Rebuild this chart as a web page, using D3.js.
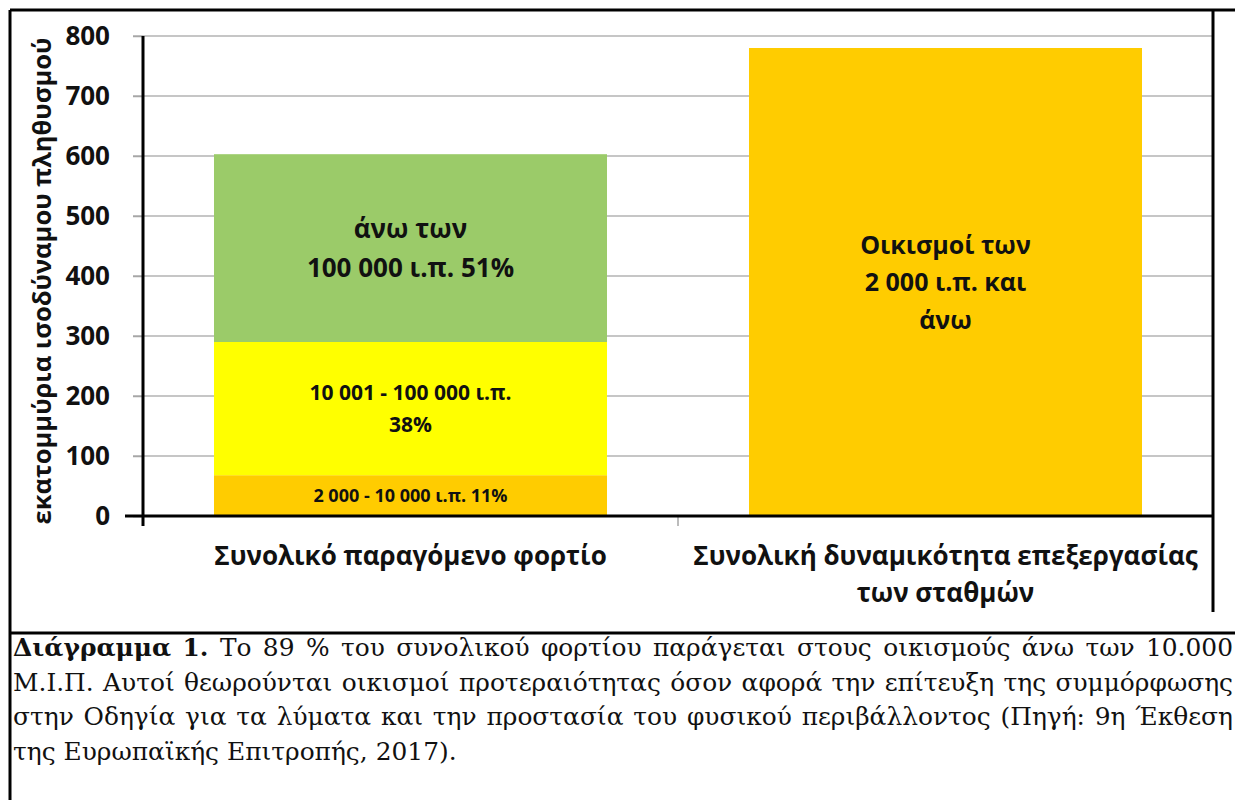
<!DOCTYPE html>
<html>
<head>
<meta charset="utf-8">
<script src="https://cdn.jsdelivr.net/npm/d3@7/dist/d3.min.js"></script>
<style>
  body { margin: 0; background: #fff; }
  svg { display: block; }
</style>
</head>
<body>
<div id="chart"></div>
<script>
// values (millions of population equivalent)
const categories = ["Συνολικό παραγόμενο φορτίο", "Συνολική δυναμικότητα επεξεργασίας των σταθμών"];
const categoryLines = [["Συνολικό παραγόμενο φορτίο"], ["Συνολική δυναμικότητα επεξεργασίας", "των σταθμών"]];
const loadSegments = [68, 222, 313];          // 2 000-10 000, 10 001-100 000, >100 000
const capacitySegments = [780];                // plants >= 2 000 p.e.
const segmentColors = [["#FFCC00", "#FFFF00", "#9BCB69"], ["#FFCC00"]];
const segmentLabels = [
    [["2 000 - 10 000 ι.π. 11%"], ["10 001 - 100 000 ι.π.", "38%"], ["άνω των", "100 000 ι.π. 51%"]],
    [["Οικισμοί των", "2 000 ι.π. και", "άνω"]]
];
const labelSizes = [[18, 21, 26], [25]];
const yTicks = [0, 100, 200, 300, 400, 500, 600, 700, 800];
const yTitle = "εκατομμύρια ισοδύναμου πληθυσμού";

const captionLines = [
    "Διάγραμμα 1. Το 89 % του συνολικού φορτίου παράγεται στους οικισμούς άνω των 10.000",
    "Μ.Ι.Π. Αυτοί θεωρούνται οικισμοί προτεραιότητας όσον αφορά την επίτευξη της συμμόρφωσης",
    "στην Οδηγία για τα λύματα και την προστασία του φυσικού περιβάλλοντος (Πηγή: 9η Έκθεση",
    "της Ευρωπαϊκής Επιτροπής, 2017)."
];
const captionBoldWords = 2;

const W = 1235, H = 800;
const sans = "'Open Sans', 'Noto Sans', sans-serif";
const serif = "'DejaVu Serif', serif";

const svg = d3.select("#chart").append("svg")
    .attr("width", W)
    .attr("height", H);

svg.append("rect").attr("width", W).attr("height", H).attr("fill", "#fff");

// plot area
const plot = { left: 143, right: 1213, top: 36, bottom: 516 };

const y = d3.scaleLinear().domain([0, 800]).range([plot.bottom, plot.top]);
const x = d3.scaleBand()
    .domain(categories)
    .range([plot.left, plot.right])
    .paddingInner(0.2654)
    .paddingOuter(0.1327);

// gridlines
svg.append("g")
    .selectAll("line")
    .data(yTicks.filter(d => d > 0))
    .join("line")
    .attr("x1", plot.left - 10)
    .attr("x2", plot.right)
    .attr("y1", d => y(d))
    .attr("y2", d => y(d))
    .attr("stroke", "#b3b3b3")
    .attr("stroke-width", 1.5);

// stacked bars
const stacks = [loadSegments, capacitySegments];
stacks.forEach((vals, ci) => {
    const cat = categories[ci];
    let acc = 0;
    vals.forEach((v, si) => {
        const y0 = acc, y1 = acc + v;
        acc = y1;
        svg.append("rect")
            .attr("x", x(cat))
            .attr("width", x.bandwidth())
            .attr("y", y(y1))
            .attr("height", y(y0) - y(y1))
            .attr("fill", segmentColors[ci][si]);

        const lines = segmentLabels[ci][si];
        const fs = labelSizes[ci][si];
        const lh = fs * 1.5;
        const mid = (y(y0) + y(y1)) / 2;
        const t = svg.append("text")
            .attr("text-anchor", "middle")
            .attr("font-family", sans)
            .attr("font-weight", "bold")
            .attr("font-size", fs + "px")
            .attr("fill", "#111");
        lines.forEach((ln, li) => {
            t.append("tspan")
                .attr("x", x(cat) + x.bandwidth() / 2)
                .attr("y", mid + (li - (lines.length - 1) / 2) * lh)
                .attr("dy", "0.36em")
                .text(ln);
        });
    });
});

// y axis
const yAxis = svg.append("g")
    .attr("transform", `translate(${plot.left},0)`)
    .call(d3.axisLeft(y).tickValues(yTicks).tickSize(10).tickPadding(23));
yAxis.select(".domain").remove();
yAxis.selectAll(".tick line").attr("stroke", "#a6a6a6").attr("stroke-width", 1.5);
yAxis.selectAll(".tick text")
    .attr("font-family", sans)
    .attr("font-weight", "bold")
    .attr("font-size", "26px")
    .attr("fill", "#111");

svg.append("line")
    .attr("x1", plot.left).attr("x2", plot.left)
    .attr("y1", plot.top).attr("y2", plot.bottom + 10)
    .attr("stroke", "#000").attr("stroke-width", 3);

// x axis
const boundaries = [plot.left, (x(categories[0]) + x.bandwidth() + x(categories[1])) / 2, plot.right];
svg.append("g")
    .selectAll("line")
    .data(boundaries.slice(1))
    .join("line")
    .attr("x1", d => d).attr("x2", d => d)
    .attr("y1", plot.bottom).attr("y2", plot.bottom + 10)
    .attr("stroke", "#a6a6a6").attr("stroke-width", 1.5);

svg.append("line")
    .attr("x1", plot.left - 18).attr("x2", plot.right)
    .attr("y1", plot.bottom).attr("y2", plot.bottom)
    .attr("stroke", "#000").attr("stroke-width", 3);

// category labels
categories.forEach((cat, i) => {
    const t = svg.append("text")
        .attr("text-anchor", "middle")
        .attr("font-family", sans)
        .attr("font-weight", "bold")
        .attr("font-size", "26px")
        .attr("fill", "#111");
    categoryLines[i].forEach((ln, li) => {
        t.append("tspan")
            .attr("x", x(cat) + x.bandwidth() / 2)
            .attr("y", 565 + li * 37)
            .text(ln);
    });
});

// y title
svg.append("text")
    .attr("transform", "translate(42,281) rotate(-90)")
    .attr("text-anchor", "middle")
    .attr("dy", "0.35em")
    .attr("font-family", sans)
    .attr("font-weight", "bold")
    .attr("font-size", "25.5px")
    .attr("fill", "#111")
    .text(yTitle);

// frame
const frame = svg.append("g").attr("stroke", "#000").attr("stroke-width", 3);
frame.append("line").attr("x1", 10).attr("x2", W).attr("y1", 10).attr("y2", 10);
frame.append("line").attr("x1", 10).attr("x2", 10).attr("y1", 10).attr("y2", H);
frame.append("line").attr("x1", 1213).attr("x2", 1213).attr("y1", 10).attr("y2", 612);
frame.append("line").attr("x1", 10).attr("x2", W).attr("y1", 633).attr("y2", 633);

// caption, justified
const capLeft = 13, capRight = 1233;
const measure = svg.append("text").attr("font-family", serif).attr("font-size", "18px");
measure.text(captionLines[1]);
const capSize = 18 * (capRight - capLeft - 14) / measure.node().getComputedTextLength();
measure.remove();

const cap = svg.append("g")
    .attr("font-family", serif)
    .attr("font-size", capSize + "px")
    .attr("fill", "#111");

let wordIndex = 0;
captionLines.forEach((line, li) => {
    const words = line.split(" ");
    const by = 656 + li * 34.5;
    const nodes = words.map(w => {
        const bold = wordIndex++ < captionBoldWords;
        return cap.append("text")
            .attr("y", by)
            .attr("font-weight", bold ? "bold" : "normal")
            .text(w);
    });
    const widths = nodes.map(n => n.node().getComputedTextLength());
    const justify = li < captionLines.length - 1;
    const spaceW = capSize * 0.32;
    const gap = justify
        ? (capRight - capLeft - d3.sum(widths)) / (words.length - 1)
        : spaceW;
    let cx = capLeft;
    nodes.forEach((n, i) => {
        n.attr("x", cx);
        cx += widths[i] + gap;
    });
});
</script>
</body>
</html>
